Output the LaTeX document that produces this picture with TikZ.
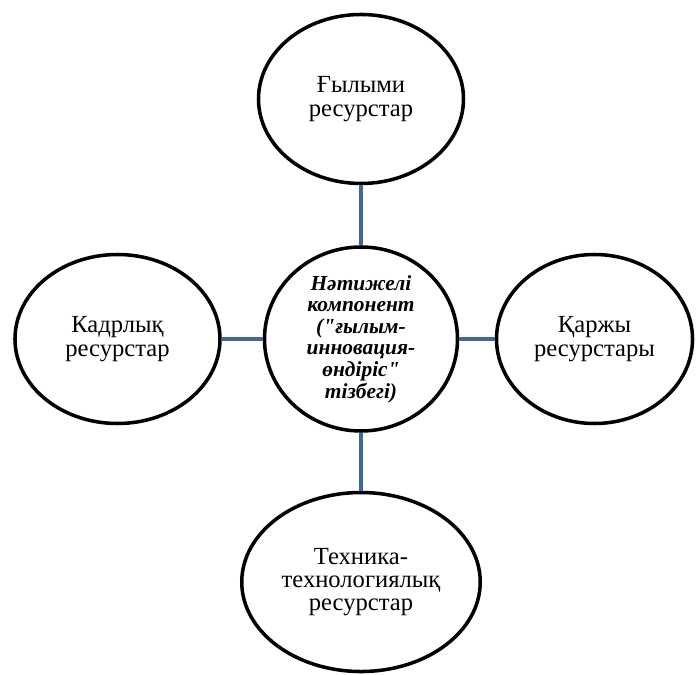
\documentclass[tikz,border=0pt]{standalone}
\usepackage{fontspec}
\setmainfont{Liberation Serif}[Ligatures=TeXOff]
\usetikzlibrary{shapes.geometric,positioning}
\definecolor{link}{HTML}{3E6A9A}
\begin{document}
\begin{tikzpicture}[font=\fontsize{14}{13.3}\selectfont,
  res/.style={draw,ellipse,line width=2pt,inner sep=0pt,minimum width=4.1cm,minimum height=3.38cm,align=center},
  core/.style={res,minimum width=3.86cm,minimum height=3.68cm,font=\fontsize{12.2}{12.3}\selectfont\bfseries\itshape},
  ln/.style={line width=2.5pt,link}]
\useasboundingbox (-7.22,-6.70) rectangle (6.70,6.78);
\node[core] (c) {Нәтижелі\\компонент\\("ғылым-\\инновация-\\өндіріс"\\тізбегі)};
\node[res,above=1.2cm of c] (t) {Ғылыми\\ресурстар};
\node[res,left=0.82cm of c] (l) {Кадрлық\\ресурстар};
\node[res,right=0.71cm of c,minimum width=3.92cm] (r) {Қаржы\\ресурстары};
\node[res,below=1.16cm of c,minimum width=4.77cm,minimum height=3.58cm] (b) {Техника-\\технологиялық\\ресурстар};
\draw[ln](c)--(t);\draw[ln](c)--(l);\draw[ln](c)--(r);\draw[ln](c)--(b);
\end{tikzpicture}
\end{document}
